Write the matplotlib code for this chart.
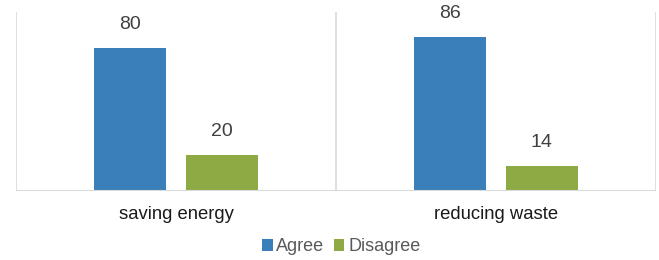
import matplotlib.pyplot as plt
import numpy as np

categories = ["saving energy", "reducing waste"]
agree = [80, 86]
disagree = [20, 14]
series_names = ["Agree", "Disagree"]

blue = "#3A7EBA"
green = "#8DAA45"
grid_col = "#D9D9D9"

plt.rcParams['font.family'] = ['Liberation Sans', 'DejaVu Sans']

fig = plt.figure(figsize=(6.59, 2.60), dpi=100)
ax = fig.add_axes([16 / 659, 69 / 260, 640 / 659, 179 / 260])

x = np.arange(len(categories))
w = 0.225
off = 0.03 + w / 2
b1 = ax.bar(x - off, agree, w, color=blue, label=series_names[0])
b2 = ax.bar(x + off, disagree, w, color=green, label=series_names[1])

for bars, vals in ((b1, agree), (b2, disagree)):
    for rect, v in zip(bars, vals):
        ax.text(rect.get_x() + rect.get_width() / 2, v + 8.5, str(v),
                ha="center", va="bottom", fontsize=14, color="#404040",
                clip_on=False)

ax.set_xlim(-0.5, len(categories) - 0.5)
ax.set_ylim(0, 100)
for b in np.arange(-0.5, len(categories), 1.0):
    ax.axvline(b, color=grid_col, lw=1.2, zorder=0)

for s in ax.spines.values():
    s.set_visible(False)
ax.axhline(0, color=grid_col, lw=1.5, zorder=3)

ax.set_yticks([])
ax.set_xticks(x)
ax.set_xticklabels(categories, fontsize=13.3, color="#1a1a1a")
ax.tick_params(axis="x", length=0, pad=11)

leg = ax.legend(loc="upper center", bbox_to_anchor=(0.508, -0.225), ncol=2,
                frameon=False, fontsize=13, handlelength=0.6, handleheight=0.6,
                handletextpad=0.2, columnspacing=0.5, borderaxespad=0)
for t in leg.get_texts():
    t.set_color("#595959")

fig.savefig("out.png", dpi=100)
